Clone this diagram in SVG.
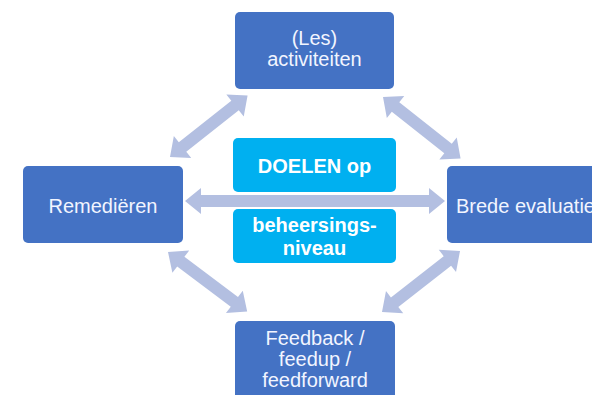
<svg xmlns="http://www.w3.org/2000/svg" width="592" height="395" viewBox="0 0 592 395">
<style>
.box{fill:#4472c4}
.goal{fill:#00b0f0}
.arr{fill:#b3bfe1}
.t{font-family:"Liberation Sans",Arial,sans-serif;font-size:20px;fill:#f2f5ff;text-anchor:middle}
.b{font-weight:bold;fill:#ffffff}
</style>
<defs>
<polygon id="da" points="0,0 16,-14 16,-6 83,-6 83,-14 99,0 83,14 83,6 16,6 16,14"/>
</defs>
<rect width="592" height="395" fill="#ffffff"/>
<g id="connectors" class="arr">
<polygon points="185,201 201,188 201,195 429,195 429,188 445,201 429,214 429,207 201,207 201,214"/>
<use href="#da" transform="translate(170,157) rotate(-38.4)"/>
<use href="#da" transform="translate(383,97) rotate(38.4)"/>
<use href="#da" transform="translate(168,252) rotate(36.9)"/>
<use href="#da" transform="translate(382,312) rotate(-38)"/>
</g>
<g id="node-activiteiten">
<rect class="box" x="235" y="12" width="159" height="77" rx="5"/>
<text class="t" x="314.5" y="45">(Les)</text>
<text class="t" x="314.5" y="66">activiteiten</text>
</g>
<g id="node-remedieren">
<rect class="box" x="23" y="166" width="160" height="77" rx="5"/>
<text class="t" x="103" y="213">Remediëren</text>
</g>
<g id="node-evaluatie">
<rect class="box" x="447" y="166" width="160" height="77" rx="5"/>
<text class="t" x="456" y="213" style="text-anchor:start">Brede evaluatie</text>
</g>
<g id="node-feedback">
<rect class="box" x="235" y="321" width="160" height="80" rx="5"/>
<text class="t" x="315" y="345">Feedback /</text>
<text class="t" x="315" y="366">feedup /</text>
<text class="t" x="315" y="387">feedforward</text>
</g>
<g id="node-doelen">
<rect class="goal" x="233" y="138" width="163" height="54" rx="5"/>
<text class="t b" x="314.5" y="173">DOELEN op</text>
</g>
<g id="node-beheersing">
<rect class="goal" x="233" y="209" width="163" height="54" rx="5"/>
<text class="t b" x="314.5" y="232">beheersings-</text>
<text class="t b" x="314.5" y="255">niveau</text>
</g>
</svg>
